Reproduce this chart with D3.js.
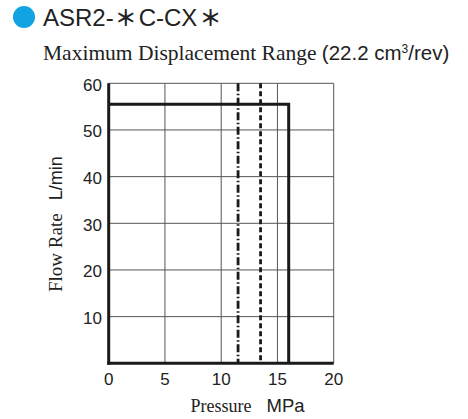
<!DOCTYPE html>
<html><head><meta charset="utf-8">
<script src="https://cdn.jsdelivr.net/npm/d3@7"></script>
<style>body{margin:0;background:#fff}</style>
</head><body>
<svg id="c" width="468" height="419"></svg>
<script>
const xTicks = [0, 5, 10, 15, 20];
const yTicks = [10, 20, 30, 40, 50, 60];
const xGrid = [5, 10, 15, 20];
const yGrid = [10, 20, 30, 40, 50, 60];
// Maximum displacement envelope (pressure MPa, flow L/min)
const envelopeP = [0, 16, 16];
const envelopeQ = [55.5, 55.5, 0];
// Vertical reference lines (pressure MPa)
const dashDotP = 11.5;
const dashedP = 13.5;

const SANS = "Liberation Sans, Arial, sans-serif";
const SERIF = "Liberation Serif, Times New Roman, serif";
const svg = d3.select("#c");
const x = d3.scaleLinear().domain([0, 20]).range([108.7, 333.7]);
const y = d3.scaleLinear().domain([0, 60]).range([363.3, 83.3]);

// title
svg.append("circle").attr("cx", 24).attr("cy", 17).attr("r", 11).attr("fill", "#12a3e2");
const t = svg.append("text").attr("x", 43).attr("y", 26).attr("font-family", SANS)
  .attr("font-size", 24).attr("fill", "#222");
t.append("tspan").text("ASR2-");
t.append("tspan").attr("font-family", "Noto Sans CJK JP").attr("font-size", 22).attr("font-weight", "bold").attr("dx", 1).text("＊");
t.append("tspan").attr("dx", 2).text("C-CX");
t.append("tspan").attr("font-family", "Noto Sans CJK JP").attr("font-size", 22).attr("font-weight", "bold").attr("dx", 2).text("＊");

const sub = svg.append("text").attr("x", 43).attr("y", 60).attr("fill", "#222");
sub.append("tspan").attr("font-family", SERIF).attr("font-size", 21.5).text("Maximum Displacement Range ");
sub.append("tspan").attr("font-family", SANS).attr("font-size", 20.5).text("(22.2 cm");
sub.append("tspan").attr("font-family", SANS).attr("font-size", 12).attr("dy", -7).text("3");
sub.append("tspan").attr("font-family", SANS).attr("font-size", 20.5).attr("dy", 7).text("/rev)");

// grid
const g = svg.append("g");
g.selectAll(".vx").data(xGrid).join("line")
  .attr("x1", d => x(d)).attr("x2", d => x(d)).attr("y1", y(60)).attr("y2", y(0))
  .attr("stroke", "#555").attr("stroke-width", 1);
g.selectAll(".hy").data(yGrid).join("line")
  .attr("x1", x(0)).attr("x2", x(20)).attr("y1", d => y(d)).attr("y2", d => y(d))
  .attr("stroke", "#555").attr("stroke-width", 1);

// axes (thick left and bottom)
svg.append("line").attr("x1", x(0)).attr("x2", x(0)).attr("y1", y(60)).attr("y2", y(0) + 1.5)
  .attr("stroke", "#1a1a1a").attr("stroke-width", 3);
svg.append("line").attr("x1", x(0) - 1.5).attr("x2", x(20)).attr("y1", y(0)).attr("y2", y(0))
  .attr("stroke", "#1a1a1a").attr("stroke-width", 3);

// reference lines
svg.append("line").attr("x1", x(dashDotP)).attr("x2", x(dashDotP)).attr("y1", y(60)).attr("y2", y(0))
  .attr("stroke", "#1a1a1a").attr("stroke-width", 2.8).attr("stroke-dasharray", "8,2.5,1.5,2.5");
svg.append("line").attr("x1", x(dashedP)).attr("x2", x(dashedP)).attr("y1", y(60)).attr("y2", y(0))
  .attr("stroke", "#1a1a1a").attr("stroke-width", 2.8).attr("stroke-dasharray", "5,3");

// envelope
const pts = envelopeP.map((p, i) => [p, envelopeQ[i]]);
svg.append("path").datum(pts)
  .attr("d", d3.line().x(d => x(d[0])).y(d => y(d[1])))
  .attr("fill", "none").attr("stroke", "#1a1a1a").attr("stroke-width", 3).attr("stroke-linejoin", "miter");

// tick labels
svg.selectAll(".xl").data(xTicks).join("text")
  .attr("x", d => x(d)).attr("y", 385).attr("text-anchor", "middle")
  .attr("font-family", SANS).attr("font-size", 17).attr("fill", "#222")
  .text(d => d);
svg.selectAll(".yl").data(yTicks).join("text")
  .attr("x", 102).attr("y", d => y(d) + 7.5).attr("text-anchor", "end")
  .attr("font-family", SANS).attr("font-size", 17).attr("fill", "#222")
  .text(d => d);

// axis titles
const xt = svg.append("text").attr("x", 190.5).attr("y", 411.5).attr("fill", "#222");
xt.append("tspan").attr("font-family", SERIF).attr("font-size", 18).text("Pressure");
xt.append("tspan").attr("font-family", SANS).attr("font-size", 18.5).attr("dx", 15).text("MPa");

const yt = svg.append("text").attr("transform", "translate(62,292) rotate(-90)").attr("fill", "#222");
yt.append("tspan").attr("font-family", SERIF).attr("font-size", 19).text("Flow Rate");
yt.append("tspan").attr("font-family", SANS).attr("font-size", 18).attr("dx", 13).text("L/min");
</script>
</body></html>
